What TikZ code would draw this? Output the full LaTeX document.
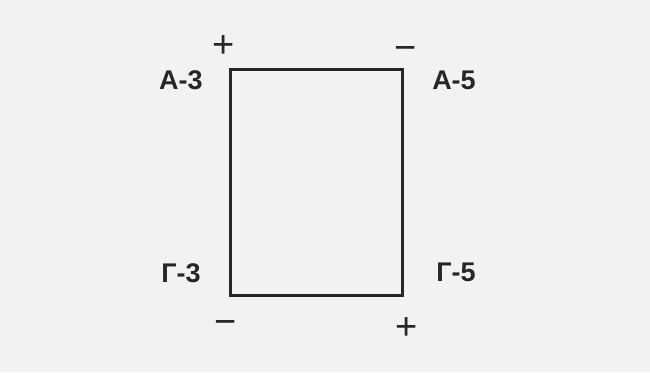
\documentclass[tikz,border=0pt]{standalone}
\usepackage{fontspec}
\setmainfont{Liberation Sans}
\begin{document}
\begin{tikzpicture}[x=1pt,y=-1pt,
  lbl/.style={font=\fontsize{27}{27}\selectfont\bfseries, text=black!85, inner sep=0pt, anchor=center},
  sgn/.style={font=\fontsize{38}{38}\selectfont, text=black!85, inner sep=0pt},
  frame/.style={draw=black!85, line width=2.6pt}]
\fill[gray!10] (0,0) rectangle (650,372);
\useasboundingbox (0,0) rectangle (650,372);
\node[frame, minimum width=172pt, minimum height=226pt, inner sep=0pt, anchor=north west] (box) at (229,68) {};
\node[lbl] (a3) at (181,80) {А-3};
\node[lbl] (a5) at (454,80) {А-5};
\node[lbl] (g3) at (181,273) {Г-3};
\node[lbl] (g5) at (456,272) {Г-5};
\node[sgn] (p1) at (224,47) {+};
\node[sgn] (m1) at (406,54) {−};
\node[sgn] (m2) at (226,327) {−};
\node[sgn] (p2) at (407,329) {+};
\end{tikzpicture}
\end{document}
